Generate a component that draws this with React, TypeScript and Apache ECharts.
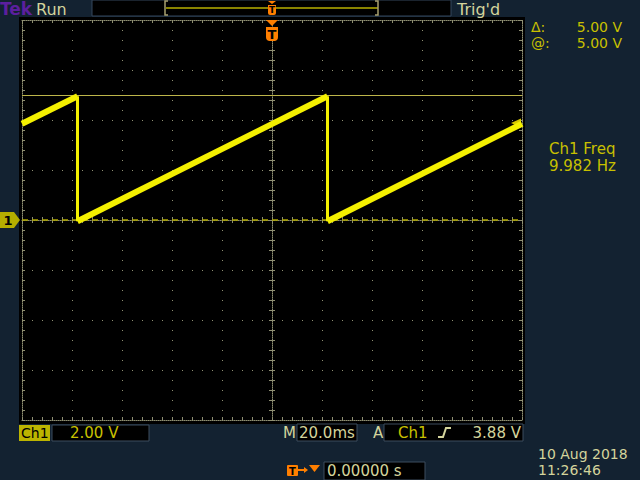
import React, { useEffect, useRef } from "react";
import * as echarts from "echarts";

// ---- data ----
const timeRangeMs = [-100, 100]; // 20 ms/div, 10 divisions, trigger at centre
const timePerDivMs = 20;
const voltRange = [-8, 8]; // 2.00 V/div, 8 divisions, ground at centre
const voltPerDiv = 2;
const traceTimesMs = [-100, -77.8, -77.8, 22.2, 22.2, 100];
const traceVolts = [3.85, 4.95, -0.05, 4.95, -0.05, 3.85];
const cursorVolts = [5.0];
const groundVolts = [0];
const triggerLevelVolts = [3.88];

// ---- texts ----
const headerTexts = { brand: "Tek", state: "Run", trig: "Trig'd" };
const cursorTexts = ["Δ:", "5.00 V", "@:", "5.00 V"];
const measTexts = ["Ch1 Freq", "9.982 Hz"];
const footerTexts = {
  ch: "Ch1",
  scale: "2.00 V",
  m: "M",
  timebase: "20.0ms",
  a: "A",
  trigCh: "Ch1",
  trigLevel: "3.88 V",
  pos: "0.00000 s",
  date: "10 Aug 2018",
  time: "11:26:46",
};

const NAVY = "#132231";
const DOT = "#8f8f72";
const YEL = "#c8c000";
const PALE = "#d4d49c";
const ORANGE = "#ff7f00";
const TRACE = "#f4f000";
const FONT = '"DejaVu Sans", sans-serif';

function buildSegments() {
  const ramps: number[][][] = [];
  const drops: number[][][] = [];
  for (let i = 0; i < traceTimesMs.length - 1; i++) {
    const seg = [
      [traceTimesMs[i], traceVolts[i]],
      [traceTimesMs[i + 1], traceVolts[i + 1]],
    ];
    if (traceTimesMs[i] === traceTimesMs[i + 1]) drops.push(seg);
    else ramps.push(seg);
  }
  return { ramps, drops };
}

function txt(x: number, y: number, text: string, fill: string, size = 15, extra: any = {}) {
  return {
    type: "text",
    x,
    y,
    z: 50,
    style: {
      text,
      fill,
      font: `${extra.bold ? "bold " : ""}${size}px ${FONT}`,
      lineHeight: extra.lh || size + 1,
      textAlign: extra.align || "left",
      textVerticalAlign: "middle",
    },
  };
}

export default function App() {
  const ref = useRef<HTMLDivElement>(null);
  useEffect(() => {
    if (!ref.current) return;
    const chart = echarts.init(ref.current, undefined, { renderer: "svg" });
    const { ramps, drops } = buildSegments();

    const xBase = {
      type: "value",
      min: timeRangeMs[0],
      max: timeRangeMs[1],
      interval: timePerDivMs,
      axisLabel: { show: false },
      splitLine: { show: false },
    };
    const yBase = {
      type: "value",
      min: voltRange[0],
      max: voltRange[1],
      interval: voltPerDiv,
      axisLabel: { show: false },
      splitLine: { show: false },
    };
    const edgeLine = { show: true, onZero: false, lineStyle: { color: DOT, width: 1, type: [1, 1] } };
    const noLine = { show: false, onZero: false };
    const tickIn = { show: true, inside: true, length: 3, lineStyle: { color: DOT } };
    const tickOut = { show: true, inside: false, length: 3, lineStyle: { color: DOT } };
    const minor = { show: true, splitNumber: 5, length: 3, lineStyle: { color: DOT } };
    const grid = { type: [1, 9], color: DOT, width: 1 };

    const series: any[] = [];
    ramps.forEach((seg) =>
      series.push({
        type: "line",
        data: seg,
        showSymbol: false,
        lineStyle: { color: TRACE, width: 6 },
        z: 5,
      })
    );
    drops.forEach((seg) =>
      series.push({
        type: "line",
        data: seg,
        showSymbol: false,
        lineStyle: { color: TRACE, width: 3 },
        z: 5,
      })
    );
    series.push({
      type: "line",
      data: [],
      z: 3,
      markLine: {
        silent: true,
        symbol: ["none", "none"],
        label: { show: false },
        data: [
          ...cursorVolts.map((v) => ({ yAxis: v, lineStyle: { color: "#bdb54a", width: 1, type: "solid" } })),
          ...groundVolts.map((v) => ({ yAxis: v, lineStyle: { color: "#b3aa00", width: 1.5, type: [6, 4] } })),
        ],
      },
      markPoint: {
        silent: true,
        symbol: "triangle",
        symbolSize: [9, 10],
        symbolRotate: 90,
        symbolOffset: [-6, 0],
        label: { show: false },
        itemStyle: { color: "#d6c800" },
        data: triggerLevelVolts.map((v) => ({ coord: [timeRangeMs[1], v] })),
      },
    });

    const graphics: any[] = [
      // top status bar
      { type: "rect", shape: { x: 92, y: 0, width: 359, height: 16 }, style: { fill: "#000", stroke: "#34465c", lineWidth: 1 }, z: 40 },
      { type: "polyline", shape: { points: [[168, 1], [165, 1], [165, 15], [168, 15]] }, style: { stroke: "#a8a070", lineWidth: 1.5, fill: "none" }, z: 41 },
      { type: "line", shape: { x1: 166, y1: 8, x2: 378, y2: 8 }, style: { stroke: "#b8b000", lineWidth: 1.5 }, z: 41 },
      { type: "polyline", shape: { points: [[375, 1], [378, 1], [378, 15], [375, 15]] }, style: { stroke: "#a8a070", lineWidth: 1.5, fill: "none" }, z: 41 },
      { type: "polygon", shape: { points: [[268, 1], [276, 1], [272, 4]] }, style: { fill: ORANGE }, z: 42 },
      { type: "rect", shape: { x: 268, y: 5, width: 8, height: 10, r: [0, 0, 2, 2] }, style: { fill: ORANGE }, z: 42 },
      txt(272, 10, "T", "#000", 9, { bold: true, align: "center" }),
      // main trigger position marker
      { type: "polygon", shape: { points: [[266, 20], [278, 20], [272, 26]] }, style: { fill: ORANGE }, z: 42 },
      { type: "rect", shape: { x: 266, y: 27, width: 12, height: 14, r: [0, 0, 4, 4] }, style: { fill: ORANGE }, z: 42 },
      txt(272, 34, "T", "#000", 13, { bold: true, align: "center" }),
      // ground marker
      { type: "polygon", shape: { points: [[0, 212], [14, 212], [20, 220], [14, 228], [0, 228]] }, style: { fill: "#b5ae00" }, z: 42 },
      txt(8, 220, "1", "#000", 13, { bold: true, align: "center" }),
      // header texts
      txt(0, 9, headerTexts.brand, "#5c1f9e", 17, { bold: true }),
      txt(36, 9, headerTexts.state, PALE, 16),
      txt(457, 9, headerTexts.trig, PALE, 16),
      // cursor readout
      txt(531, 27, cursorTexts[0], YEL, 14, { lh: 14 }),
      txt(622, 27, cursorTexts[1], YEL, 14, { align: "right", lh: 14 }),
      txt(531, 43, cursorTexts[2], YEL, 14, { lh: 14 }),
      txt(622, 43, cursorTexts[3], YEL, 14, { align: "right", lh: 14 }),
      // measurement
      txt(549, 149, measTexts[0], YEL, 15, { lh: 15 }),
      txt(549, 166, measTexts[1], YEL, 15, { lh: 15 }),
      // footer
      { type: "rect", shape: { x: 19, y: 425, width: 31, height: 16 }, style: { fill: "#bcb400" }, z: 40 },
      txt(21, 433, footerTexts.ch, "#000", 14),
      { type: "rect", shape: { x: 52, y: 425, width: 97, height: 16 }, style: { fill: "#000", stroke: "#3c4c5e", lineWidth: 1 }, z: 40 },
      txt(70, 433, footerTexts.scale, YEL, 15),
      txt(283, 433, footerTexts.m, PALE, 15),
      { type: "rect", shape: { x: 297, y: 424, width: 60, height: 17 }, style: { fill: "#000", stroke: "#3c4c5e", lineWidth: 1 }, z: 40 },
      txt(299, 433, footerTexts.timebase, PALE, 15),
      txt(373, 433, footerTexts.a, PALE, 15),
      { type: "rect", shape: { x: 384, y: 424, width: 139, height: 17 }, style: { fill: "#000", stroke: "#3c4c5e", lineWidth: 1 }, z: 40 },
      txt(398, 433, footerTexts.trigCh, YEL, 15),
      { type: "polyline", shape: { points: [[438, 437], [443, 437], [446, 428], [451, 428]] }, style: { stroke: PALE, lineWidth: 2, fill: "none" }, z: 41 },
      txt(521, 433, footerTexts.trigLevel, PALE, 15, { align: "right" }),
      { type: "rect", shape: { x: 287, y: 465, width: 11, height: 11, r: 1 }, style: { fill: ORANGE }, z: 41 },
      txt(292.5, 471, "T", "#000", 10, { bold: true, align: "center" }),
      { type: "line", shape: { x1: 298, y1: 470, x2: 305, y2: 470 }, style: { stroke: ORANGE, lineWidth: 2 }, z: 41 },
      { type: "polygon", shape: { points: [[304, 467], [308, 470], [304, 473]] }, style: { fill: ORANGE }, z: 41 },
      { type: "polygon", shape: { points: [[309, 465], [320, 465], [314.5, 472]] }, style: { fill: ORANGE }, z: 41 },
      { type: "rect", shape: { x: 324, y: 462, width: 101, height: 18 }, style: { fill: "#000", stroke: "#3c4c5e", lineWidth: 1 }, z: 40 },
      txt(327, 471, footerTexts.pos, PALE, 15),
      txt(538, 454, footerTexts.date, PALE, 14, { lh: 14 }),
      txt(538, 470, footerTexts.time, PALE, 14, { lh: 14 }),
    ];

    chart.setOption({
      animation: false,
      backgroundColor: "transparent",
      grid: { left: 22, top: 20, width: 500, height: 400, show: false, containLabel: false },
      xAxis: [
        { ...xBase, position: "bottom", axisLine: edgeLine, axisTick: tickIn, minorTick: minor, splitLine: { show: true, lineStyle: grid } },
        { ...xBase, position: "top", axisLine: edgeLine, axisTick: tickIn, minorTick: minor },
        { ...xBase, position: "bottom", offset: -200, axisLine: edgeLine, axisTick: tickIn, minorTick: minor },
        { ...xBase, position: "bottom", offset: -200, axisLine: noLine, axisTick: tickOut, minorTick: minor },
      ],
      yAxis: [
        { ...yBase, position: "left", axisLine: edgeLine, axisTick: tickIn, minorTick: minor, splitLine: { show: true, lineStyle: grid } },
        { ...yBase, position: "right", axisLine: edgeLine, axisTick: tickIn, minorTick: minor },
        { ...yBase, position: "left", offset: -250, axisLine: edgeLine, axisTick: tickIn, minorTick: minor },
        { ...yBase, position: "left", offset: -250, axisLine: noLine, axisTick: tickOut, minorTick: minor },
      ],
      series,
      graphic: { elements: graphics },
    });
    return () => chart.dispose();
  }, []);

  return (
    <div style={{ position: "fixed", left: 0, top: 0, width: 640, height: 480, background: NAVY }}>
      <div style={{ position: "absolute", left: 19, top: 17, width: 506, height: 407, background: "#000" }} />
      <div ref={ref} style={{ position: "absolute", left: 0, top: 0, width: 640, height: 480 }} />
    </div>
  );
}
